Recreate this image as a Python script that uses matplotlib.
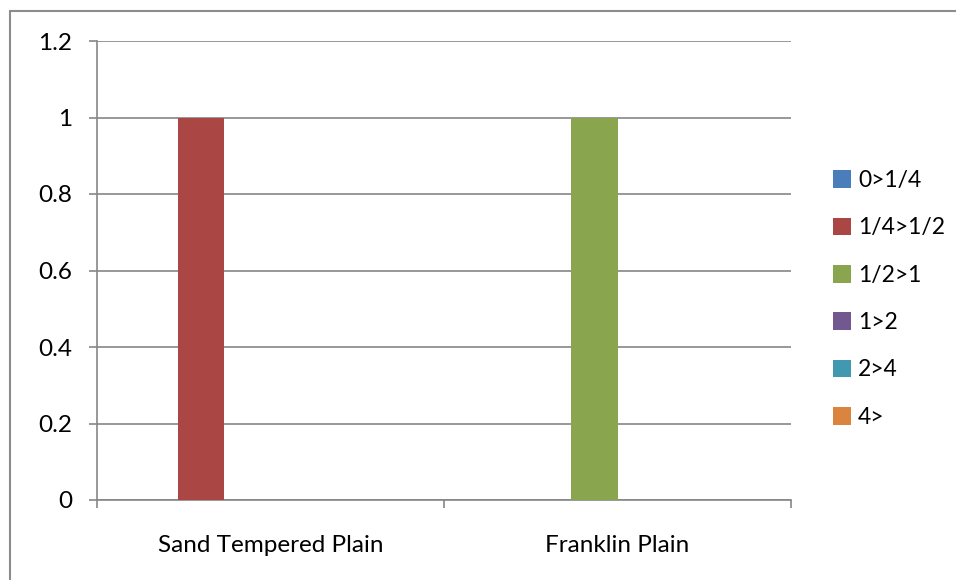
import numpy as np
import matplotlib.pyplot as plt
from matplotlib.patches import Rectangle

plt.rcParams['font.family'] = ['Lato', 'DejaVu Sans']

categories = ["Sand Tempered Plain", "Franklin Plain"]
series_names = ["0>1/4", "1/4>1/2", "1/2>1", "1>2", "2>4", "4>"]
series_values = [
  [0, 0],
  [1, 0],
  [0, 1],
  [0, 0],
  [0, 0],
  [0, 0],
]
colors = ["#4a7ebb", "#aa4643", "#89a54e", "#71588f", "#4198af", "#db843d"]
yticks = [0, 0.2, 0.4, 0.6, 0.8, 1, 1.2]
ytick_labels = ["0", "0.2", "0.4", "0.6", "0.8", "1", "1.2"]

W, H = 956, 580
fig = plt.figure(figsize=(W / 100, H / 100), dpi=100)
ax = fig.add_axes([97 / W, 1 - 500 / H, (791 - 97) / W, (500 - 41) / H])

# outer chart frame (only left and top edges show)
fig.patches.append(Rectangle((9.5 / W, -0.1), 1.2, 1 - 11 / H + 0.1, transform=fig.transFigure,
                             fill=False, edgecolor="#8c8c8c", linewidth=1.5, zorder=0))

n = len(series_names)
gap = 1.5
bw = 1.0 / (n + gap)
x = np.arange(len(categories))
for i, (name, vals) in enumerate(zip(series_names, series_values)):
  off = -0.5 + gap / 2 * bw + i * bw
  ax.bar(x + off, vals, width=bw, align="edge", color=colors[i], label=name, zorder=3)

ax.set_xlim(-0.5, len(categories) - 0.5)
ax.set_ylim(0, 1.2)
ax.set_yticks(yticks)
ax.set_yticklabels(ytick_labels)
ax.set_xticks(x)
ax.set_xticklabels(categories)
ax.set_xticks(np.arange(len(categories) + 1) - 0.5, minor=True)

grey = "#868686"
fs = 17.5
ax.grid(axis="y", color=grey, linewidth=1.2, zorder=0)
for s in ["top", "right"]:
  ax.spines[s].set_visible(False)
for s in ["left", "bottom"]:
  ax.spines[s].set_color(grey)
  ax.spines[s].set_linewidth(1.2)
ax.tick_params(axis="y", length=6, width=1.2, color=grey, labelsize=fs, pad=12)
ax.tick_params(axis="x", which="major", length=0, labelsize=fs, pad=25)
ax.tick_params(axis="x", which="minor", length=6, width=1.2, color=grey)

leg = ax.legend(loc="upper left", bbox_to_anchor=(833 / W, 1 - 170 / H), bbox_transform=fig.transFigure,
                frameon=False, fontsize=16.5, handlelength=0.8, handleheight=0.8, handletextpad=0.3,
                labelspacing=1.15, borderaxespad=0, borderpad=0)

fig.savefig("out.png", dpi=100)
